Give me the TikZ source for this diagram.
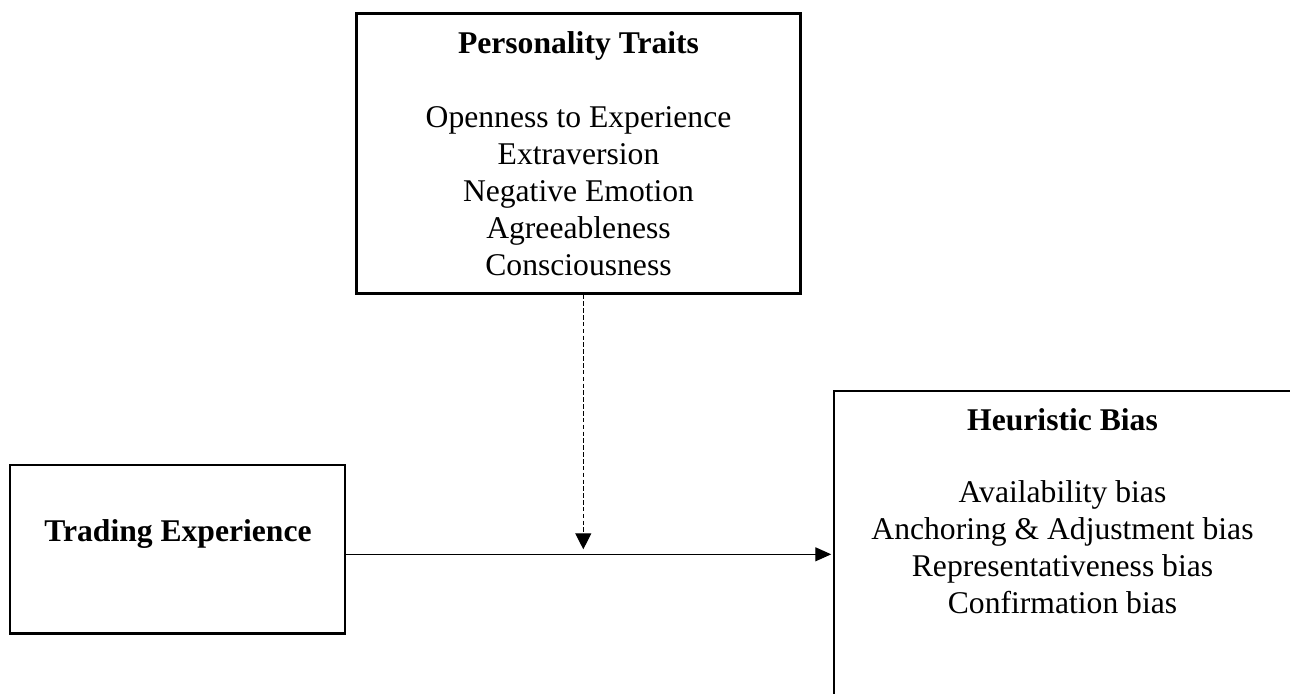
\documentclass[tikz,border=0pt]{standalone}
\usepackage{fontspec}
\setmainfont{Liberation Serif}
\usetikzlibrary{positioning,arrows.meta,calc}
\tikzset{
  flow/.style={-{Triangle[length=3.2mm,width=2.8mm]},line width=0.7pt,draw=black},
  dashflow/.style={-{Triangle[length=3.2mm,width=3.2mm]},line width=0.7pt,draw=black,
    dash pattern=on 2.6pt off 1.3pt},
  box/.style={draw=black,line width=1.4pt,inner sep=0pt},
  headtext/.style={font=\fontsize{18}{21}\selectfont\bfseries,inner sep=0pt,anchor=base},
  listtext/.style={font=\fontsize{18}{21}\selectfont,align=center,inner sep=0pt,anchor=base}
}
\begin{document}
\begin{tikzpicture}[x=0.02cm,y=-0.02cm]
  \clip (0,0) rectangle (1290,693);
  \node[box,minimum width=8.89cm,minimum height=5.6cm] (pers) at (578.5,153.3) {};
  \node[box,minimum width=6.7cm,minimum height=3.37cm] (trade) at (177.5,549.2) {};
  \node[box,minimum width=9.18cm,minimum height=6.4cm,anchor=north west] (heur) at (833,389.5) {};
  \node[headtext] (perstitle) at (578.5,53) {Personality Traits};
  \node[listtext] (perslist) at (578.5,275) {Openness to Experience\\Extraversion\\Negative Emotion\\Agreeableness\\Consciousness};
  \node[headtext] (tradetitle) at (178,541.7) {Trading Experience};
  \node[headtext] (heurtitle) at (1062.5,430) {Heuristic Bias};
  \node[listtext] (heurlist) at (1062.5,613) {Availability bias\\Anchoring \& Adjustment bias\\Representativeness bias\\Confirmation bias};
  \coordinate (join) at (583.3,554.3);
  \coordinate (dashend) at (583.3,549.3);
  \draw[flow,shorten >=1pt] (trade.east |- join) -- (heur.west |- join);
  \draw[dashflow] (pers.south -| join) -- (dashend);
\end{tikzpicture}
\end{document}
